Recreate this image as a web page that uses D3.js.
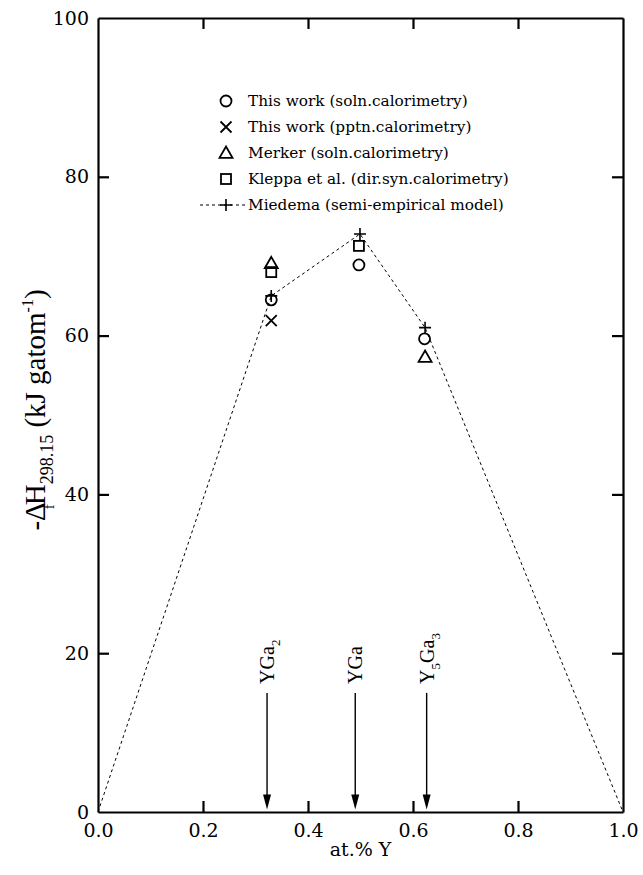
<!DOCTYPE html>
<html>
<head>
<meta charset="utf-8">
<script src="https://cdn.jsdelivr.net/npm/d3@7"></script>
<style>
  body { margin: 0; background: #fff; }
  svg text { fill: #000; }
</style>
</head>
<body>
<div id="chart"></div>
<script>
// Data.
const solnX = [0.33, 0.497, 0.622];
const solnY = [64.5, 68.9, 59.6];
const pptnX = [0.33];
const pptnY = [61.9];
const merkerX = [0.33, 0.623];
const merkerY = [69.1, 57.3];
const kleppaX = [0.33, 0.497];
const kleppaY = [68.0, 71.3];
const miedemaX = [0, 0.33, 0.499, 0.623, 1];
const miedemaY = [0, 65.0, 72.8, 61.0, 0];
const phaseNames = ["YGa2", "YGa", "Y5Ga3"];
const phaseX = [0.322, 0.49, 0.626];
const xTicks = [0, 0.2, 0.4, 0.6, 0.8, 1.0];
const yTicks = [0, 20, 40, 60, 80, 100];
const legendLabels = [
  "This work (soln.calorimetry)",
  "This work (pptn.calorimetry)",
  "Merker (soln.calorimetry)",
  "Kleppa et al. (dir.syn.calorimetry)",
  "Miedema (semi-empirical model)",
];

const width = 643;
const height = 875;
const margin = { top: 18, right: 20, bottom: 63, left: 98 };
const font = "DejaVu Serif, serif";
const timesFont = "Liberation Serif, serif";

const svg = d3.select("#chart")
  .append("svg")
  .attr("width", width)
  .attr("height", height)
  .attr("font-family", font);

const x = d3.scaleLinear().domain([0, 1]).range([margin.left, width - margin.right]);
const y = d3.scaleLinear().domain([0, 100]).range([height - margin.bottom, margin.top]);

// Frame with inward ticks on all four sides.
const tickLen = 11;
svg.append("g")
  .attr("transform", `translate(0,${y(0)})`)
  .call(d3.axisBottom(x).tickValues(xTicks).tickSizeInner(-tickLen).tickSizeOuter(0).tickPadding(9)
    .tickFormat(d3.format(".1f")))
  .call(g => g.selectAll("text").attr("font-size", 19).attr("dy", "0.85em"));
svg.append("g")
  .attr("transform", `translate(0,${y(100)})`)
  .call(d3.axisTop(x).tickValues(xTicks).tickSizeInner(-tickLen).tickSizeOuter(0).tickFormat(""));
svg.append("g")
  .attr("transform", `translate(${x(0)},0)`)
  .call(d3.axisLeft(y).tickValues(yTicks).tickSizeInner(-tickLen).tickSizeOuter(0).tickPadding(9))
  .call(g => g.selectAll("text").attr("font-size", 19));
svg.append("g")
  .attr("transform", `translate(${x(1)},0)`)
  .call(d3.axisRight(y).tickValues(yTicks).tickSizeInner(-tickLen).tickSizeOuter(0).tickFormat(""));

svg.selectAll("g").attr("font-family", font);
svg.selectAll(".domain").attr("stroke", "#000").attr("stroke-width", 2.2);
svg.selectAll(".tick line").attr("stroke", "#000").attr("stroke-width", 2.2);
// Hide end ticks that sit on the frame corners.
svg.selectAll(".tick").filter(d => d === 0 || d === 1 || d === 100).select("line").remove();

// Axis titles.
svg.append("text")
  .attr("x", (x(0) + x(1)) / 2)
  .attr("y", 856)
  .attr("text-anchor", "middle")
  .attr("font-size", 19)
  .text("at.% Y");

const yTitle = svg.append("text")
  .attr("transform", `translate(45,${(y(0) + y(100)) / 2 - 5}) rotate(-90)`)
  .attr("text-anchor", "middle")
  .attr("font-family", timesFont)
  .attr("font-size", 29);
yTitle.append("tspan").text("-Δ");
yTitle.append("tspan").attr("font-size", 15).attr("dy", 9).attr("dx", -7).text("f");
yTitle.append("tspan").attr("dy", -9).attr("dx", -1).text("H");
yTitle.append("tspan").attr("font-size", 18).attr("dy", 8).text("298.15");
yTitle.append("tspan").attr("dy", -8).text(" (kJ gatom");
yTitle.append("tspan").attr("font-size", 16).attr("dy", -12).text("-1");
yTitle.append("tspan").attr("dy", 12).text(")");

// Miedema model line.
const miedema = miedemaX.map((d, i) => [d, miedemaY[i]]);
svg.append("path")
  .datum(miedema)
  .attr("fill", "none")
  .attr("stroke", "#000")
  .attr("stroke-width", 1)
  .attr("stroke-dasharray", "3,3")
  .attr("d", d3.line().x(d => x(d[0])).y(d => y(d[1])));

// Marker drawing helpers.
function circleMark(g, cx, cy) {
  g.append("circle").attr("cx", cx).attr("cy", cy).attr("r", 5.5)
    .attr("fill", "none").attr("stroke", "#000").attr("stroke-width", 1.8);
}
function crossMark(g, cx, cy) {
  const s = 5.5;
  g.append("path")
    .attr("d", `M${cx - s},${cy - s}L${cx + s},${cy + s}M${cx - s},${cy + s}L${cx + s},${cy - s}`)
    .attr("stroke", "#000").attr("stroke-width", 1.8);
}
function triangleMark(g, cx, cy) {
  const s = 6.5;
  g.append("path")
    .attr("d", `M${cx},${cy - s}L${cx + s},${cy + s * 0.75}L${cx - s},${cy + s * 0.75}Z`)
    .attr("fill", "none").attr("stroke", "#000").attr("stroke-width", 1.8);
}
function squareMark(g, cx, cy) {
  const s = 5;
  g.append("rect").attr("x", cx - s).attr("y", cy - s).attr("width", 2 * s).attr("height", 2 * s)
    .attr("fill", "none").attr("stroke", "#000").attr("stroke-width", 1.8);
}
function plusMark(g, cx, cy) {
  const s = 6;
  g.append("path")
    .attr("d", `M${cx - s},${cy}L${cx + s},${cy}M${cx},${cy - s}L${cx},${cy + s}`)
    .attr("stroke", "#000").attr("stroke-width", 1.6);
}

const marks = svg.append("g");
solnX.forEach((d, i) => circleMark(marks, x(d), y(solnY[i])));
pptnX.forEach((d, i) => crossMark(marks, x(d), y(pptnY[i])));
merkerX.forEach((d, i) => triangleMark(marks, x(d), y(merkerY[i])));
kleppaX.forEach((d, i) => squareMark(marks, x(d), y(kleppaY[i])));
miedemaX.forEach((d, i) => {
  if (d > 0 && d < 1) plusMark(marks, x(d), y(miedemaY[i]));
});

// Phase arrows with rotated labels.
const arrowTop = 15;
const arrowBottom = 0.3;
phaseX.forEach((d, i) => {
  const ax = x(d);
  svg.append("line")
    .attr("x1", ax).attr("x2", ax)
    .attr("y1", y(arrowTop)).attr("y2", y(arrowBottom) - 12)
    .attr("stroke", "#000").attr("stroke-width", 1.4);
  svg.append("path")
    .attr("d", `M${ax - 4},${y(arrowBottom) - 15}L${ax + 4},${y(arrowBottom) - 15}L${ax},${y(arrowBottom)}Z`)
    .attr("fill", "#000");
  const label = svg.append("text")
    .attr("transform", `translate(${ax + 7},${y(arrowTop) - 9}) rotate(-90)`)
    .attr("font-family", timesFont)
    .attr("font-size", 20);
  const m = phaseNames[i].match(/^([A-Za-z]+?)(\d*)([A-Za-z]*)(\d*)$/);
  label.append("tspan").text(m[1]);
  if (m[2]) label.append("tspan").attr("font-size", 13).attr("dy", 6).text(m[2]);
  if (m[3]) label.append("tspan").attr("dy", m[2] ? -6 : 0).text(m[3]);
  if (m[4]) label.append("tspan").attr("font-size", 13).attr("dy", 6).text(m[4]);
});

// Legend.
const legend = svg.append("g");
const legendX = 226;
const legendY0 = 101;
const legendStep = 26;
const legendMarks = [circleMark, crossMark, triangleMark, squareMark, plusMark];
legendLabels.forEach((label, i) => {
  const ly = legendY0 + i * legendStep;
  if (i === 4) {
    legend.append("line")
      .attr("x1", legendX - 26).attr("x2", legendX + 20)
      .attr("y1", ly).attr("y2", ly)
      .attr("stroke", "#000").attr("stroke-width", 1).attr("stroke-dasharray", "3,3");
  }
  legendMarks[i](legend, legendX, ly);
  legend.append("text")
    .attr("x", legendX + 22)
    .attr("y", ly)
    .attr("dy", "0.35em")
    .attr("font-size", 15.3)
    .text(label);
});
</script>
</body>
</html>
